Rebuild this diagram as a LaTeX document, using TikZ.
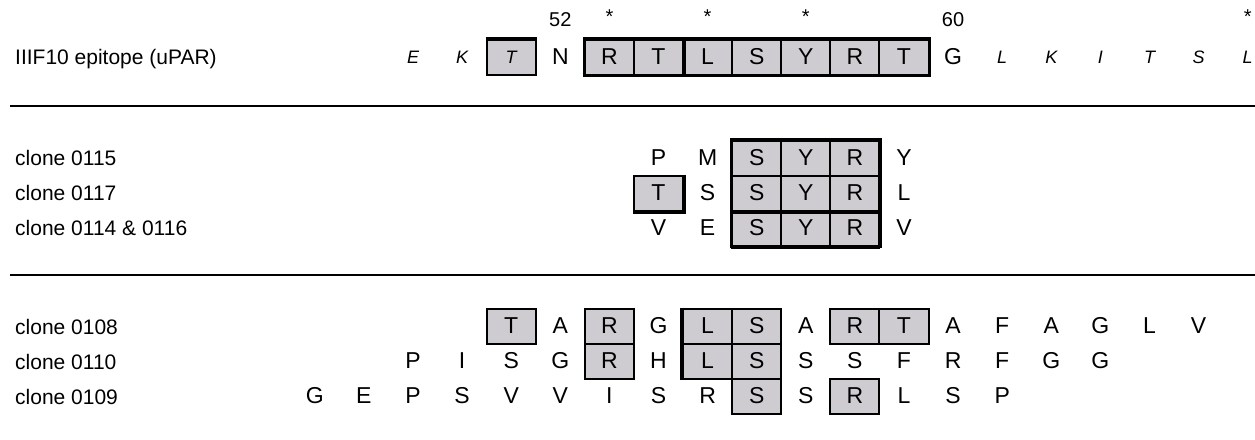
\documentclass[tikz,border=0pt]{standalone}
\usepackage{fontspec}
\setmainfont{Liberation Sans}
\usepackage{tikz}
\usetikzlibrary{positioning}
\definecolor{cellfill}{RGB}{206,204,209}
\tikzset{
    res/.style = {inner sep=0pt, font=\fontsize{23}{25}\selectfont},
    ital/.style = {inner sep=0pt, font=\fontsize{18}{20}\selectfont\itshape},
    num/.style = {inner sep=0pt, font=\fontsize{20}{22}\selectfont},
    star/.style = {inner sep=0pt, font=\fontsize{20}{22}\selectfont},
    cell/.style = {res, rectangle, draw, line width=2pt, fill=cellfill,
                        minimum width=49.1pt, minimum height=35pt},
    lbl/.style = {anchor=base west, inner sep=0pt, font=\fontsize{21}{24}\selectfont},
    grp/.style = {line width=2.6pt},
    heavy/.style = {line width=4pt},
    rule/.style = {line width=2.8pt}
}

\begin{document}
\begin{tikzpicture}[x=1pt, y=-1pt]
	\useasboundingbox (0,0) rectangle (1255,439);
	% column c sits at x = 413 + 49.1*c
	% epitope row
	\node (lep) [lbl] at (15,64) {IIIF10 epitope (uPAR)};
	\foreach \c/\r in {0/E,1/K,12/L,13/K,14/I,15/T,16/S,17/L}
		\node (ep\c) [ital] at ({413+49.1*\c},57) {\r};
	\node (ep2) [cell, ital] at ({413+49.1*2},57) {T};
	\foreach \c/\r in {3/N,11/G}
		\node (ep\c) [res] at ({413+49.1*\c},57) {\r};
	\foreach \c/\r in {4/R,5/T,6/L,7/S,8/Y,9/R,10/T}
		\node (ep\c) [cell] at ({413+49.1*\c},57) {\r};
	\draw [grp] (ep4.north west) rectangle (ep10.south east);
	\draw [heavy] (ep4.north west) -- (ep10.north east);
	\draw [heavy] (ep5.north east) -- (ep5.south east);
	\draw [heavy] (ep2.north west) -- (ep2.north east);
	\node (n52) [num] at ({413+49.1*3},20) {52};
	\node (n60) [num] at ({413+49.1*11},20) {60};
	\foreach \c in {4,6,8,17}
		\node (st\c) [star] at ({413+49.1*\c},17) {*};

	\coordinate (ruleAl) at (10,106);
	\coordinate (ruleAr) at (1255,106);
	\draw [rule] (ruleAl) -- (ruleAr);

	% clones binding the SYR core
	\node (l115) [lbl] at (15,165) {clone 0115};
	\node (l117) [lbl] at (15,200) {clone 0117};
	\node (l114) [lbl] at (15,235) {clone 0114 \& 0116};
	\foreach \row/\y in {115/158,117/193,114/228}
		\foreach \c/\r in {7/S,8/Y,9/R}
			\node (c\row x\c) [cell] at ({413+49.1*\c},\y) {\r};
	\node (c115x5) [res] at ({413+49.1*5},158) {P};
	\node (c115x6) [res] at ({413+49.1*6},158) {M};
	\node (c115x10) [res] at ({413+49.1*10},158) {Y};
	\node (c117x5) [cell] at ({413+49.1*5},193) {T};
	\node (c117x6) [res] at ({413+49.1*6},193) {S};
	\node (c117x10) [res] at ({413+49.1*10},193) {L};
	\node (c114x5) [res] at ({413+49.1*5},228) {V};
	\node (c114x6) [res] at ({413+49.1*6},228) {E};
	\node (c114x10) [res] at ({413+49.1*10},228) {V};
	\draw [grp] (c115x7.north west) rectangle (c114x9.south east);
	\draw [heavy] (c117x7.south west) -- (c117x9.south east);
	\draw [heavy] (c114x7.south west) -- (c114x9.south east);
	\draw [heavy] (c117x5.north east) -- (c117x5.south east) -- (c117x5.south west);

	\coordinate (ruleBl) at (10,275);
	\coordinate (ruleBr) at (1255,275);
	\draw [rule] (ruleBl) -- (ruleBr);

	% other clones
	\node (l108) [lbl] at (15,334) {clone 0108};
	\node (l110) [lbl] at (15,369) {clone 0110};
	\node (l109) [lbl] at (15,404) {clone 0109};
	\foreach \c/\r in {3/A,5/G,8/A,11/A,12/F,13/A,14/G,15/L,16/V}
		\node (c108x\c) [res] at ({413+49.1*\c},326) {\r};
	\foreach \c/\r in {2/T,4/R,6/L,7/S,9/R,10/T}
		\node (c108x\c) [cell] at ({413+49.1*\c},326) {\r};
	\foreach \c/\r in {0/P,1/I,2/S,3/G,5/H,8/S,9/S,10/F,11/R,12/F,13/G,14/G}
		\node (c110x\c) [res] at ({413+49.1*\c},361) {\r};
	\foreach \c/\r in {4/R,6/L,7/S}
		\node (c110x\c) [cell] at ({413+49.1*\c},361) {\r};
	\foreach \c/\r [count=\i] in {-2/G,-1/E,0/P,1/S,2/V,3/V,4/I,5/S,6/R,8/S,10/L,11/S,12/P}
		\node (c109n\i) [res] at ({413+49.1*\c},396) {\r};
	\foreach \c/\r in {7/S,9/R}
		\node (c109x\c) [cell] at ({413+49.1*\c},396) {\r};
	\draw [heavy] (c108x6.north west) -- (c110x6.south west);
\end{tikzpicture}
\end{document}
